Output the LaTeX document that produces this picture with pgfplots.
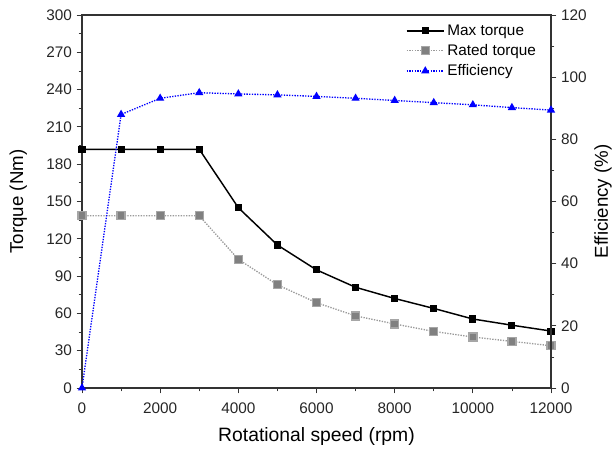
\documentclass[border=0pt]{standalone}
\usepackage{pgfplots}
\pgfplotsset{compat=1.18}
\usepackage{fontspec}
\setmainfont{Liberation Sans}
\definecolor{effblue}{RGB}{0,0,255}
\definecolor{ratedgray}{RGB}{128,128,128}
\begin{document}
\begin{tikzpicture}
\pgfplotsset{every axis/.append style={
  scale only axis, width=351.75pt, height=279.75pt,
  xmin=0, xmax=12000,
  tick align=outside,
  /pgf/number format/assume math mode=true,
  tick label style={font=\fontsize{11.5}{13}\selectfont, text=black!85},
  axis line style={black!80, line width=0.8pt},
  major tick length=4pt, minor tick length=2.5pt,
  every tick/.style={black!80, line width=0.6pt},
}}
\begin{axis}[
  ymin=0, ymax=300,
  ytick={0,30,...,300},
  minor y tick num=1,
  xtick={0,2000,...,12000},
  minor x tick num=1,
  xtick pos=bottom, ytick pos=left,
  scaled x ticks=false,
  xticklabel style={/pgf/number format/1000 sep={}, yshift=-3.5pt},
  xlabel={Rotational speed (rpm)},
  ylabel={Torque (Nm)},
  ylabel style={font=\fontsize{14}{16}\selectfont, at={(axis description cs:-0.136,0.5)}, anchor=center},
  xlabel style={font=\fontsize{14.5}{16}\selectfont, at={(axis description cs:0.5,-0.131)}, anchor=center},
]
\addplot[black, line width=1.1pt, mark=square*, mark size=2.1pt, mark options={solid}]
 coordinates {(0,192)(1000,192)(2000,192)(3000,192)(4000,145)(5000,115)(6000,95)(7000,81)(8000,72)(9000,64)(10000,55.5)(11000,50.5)(12000,45.8)};
\addplot[ratedgray!80, densely dotted, line width=1pt, mark=square*, mark size=3pt, mark options={solid, fill=ratedgray, draw=ratedgray!70}]
 coordinates {(0,138.5)(1000,138.5)(2000,138.5)(3000,138.5)(4000,103.5)(5000,83)(6000,68.6)(7000,58)(8000,51.5)(9000,45.5)(10000,41)(11000,37.5)(12000,34)};
\end{axis}
\begin{axis}[
  ymin=0, ymax=120,
  ytick={0,20,...,120},
  minor y tick num=1,
  axis y line*=right,
  axis x line=none,
  ylabel={Efficiency (\%)},
  ylabel style={font=\fontsize{14}{16}\selectfont, at={(axis description cs:1.111,0.5)}, anchor=center},
  legend style={draw=none, fill=none, at={(axis description cs:0.69,0.982)}, anchor=north west,
    inner sep=0pt, font=\fontsize{11.5}{13}\selectfont, row sep=1.3pt,
    /tikz/every even column/.append style={column sep=3pt}},
  legend cell align=left,
  legend image code/.code={\draw[mark repeat=2,mark phase=2,#1] plot coordinates {(0pt,0pt)(14pt,0pt)(28pt,0pt)};},
]
\addlegendimage{black, line width=1.1pt, mark=square*, mark size=2.1pt, mark options={solid}}
\addlegendentry{Max torque}
\addlegendimage{ratedgray!80, densely dotted, line width=1pt, mark=square*, mark size=3pt, mark options={solid, fill=ratedgray, draw=ratedgray!70}}
\addlegendentry{Rated torque}
\addplot[effblue, densely dotted, line width=1pt, mark=triangle*, mark size=2.6pt, mark options={solid}]
 coordinates {(0,0)(1000,88)(2000,93.2)(3000,95)(4000,94.6)(5000,94.3)(6000,93.8)(7000,93.2)(8000,92.5)(9000,91.8)(10000,91.1)(11000,90.2)(12000,89.4)};
\addlegendentry{Efficiency}
\end{axis}
\pgfresetboundingbox
\path[use as bounding box] ([xshift=-61.5pt,yshift=-48pt]current axis.south west) rectangle ([xshift=47.25pt,yshift=11.25pt]current axis.north east);
\end{tikzpicture}
\end{document}
